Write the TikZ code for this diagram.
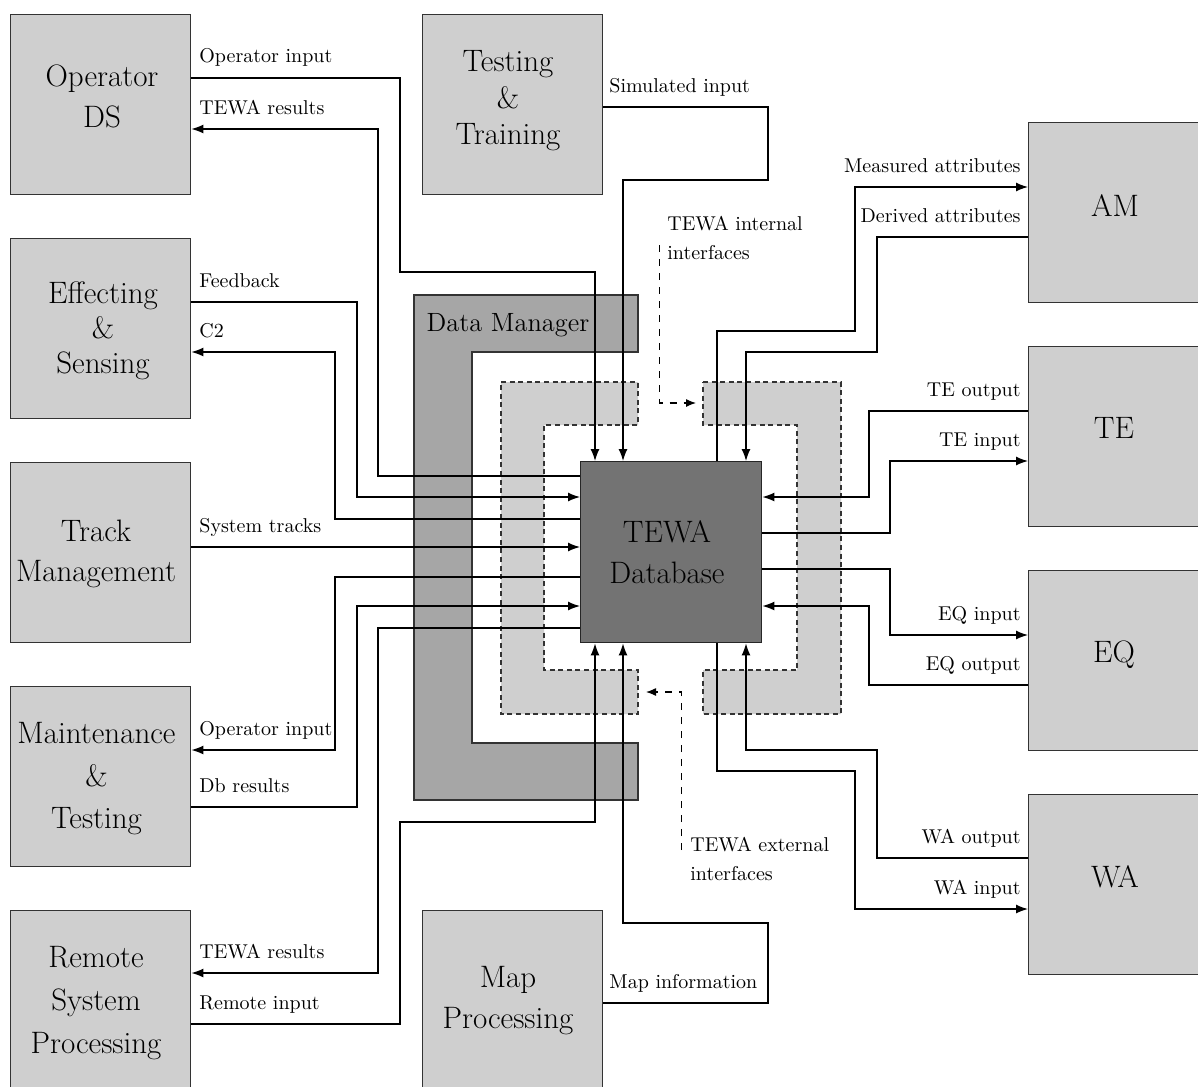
\documentclass[tikz,border=0pt]{standalone}
\usetikzlibrary{arrows.meta}
\definecolor{boxfill}{HTML}{CFCFCF}
\definecolor{dmfill}{HTML}{A6A6A6}
\definecolor{dbfill}{HTML}{737373}
\definecolor{edgecol}{HTML}{333333}
\pgfdeclarelayer{bg}
\pgfsetlayers{bg,main}
\begin{document}
\begin{tikzpicture}[x=0.5pt,y=-0.5pt,
  blk/.style={draw=edgecol, fill=boxfill, line width=0.7pt, minimum width=90pt, minimum height=90pt, inner sep=0pt, anchor=north west},
  dbblk/.style={draw=black!85, fill=dbfill, line width=0.7pt, minimum width=90.5pt, minimum height=90.5pt, inner sep=0pt, anchor=north west},
  big/.style={align=center, inner sep=0pt},
  lab/.style={font=\fontsize{10}{12}\selectfont, inner sep=0pt},
  conn/.style={line width=0.65pt, black},
  arr/.style={conn, -{Latex[length=6pt,width=4.5pt]}},
  dsh/.style={line width=0.6pt, black, dash pattern=on 3.5pt off 3.5pt, -{Latex[length=5pt,width=4pt]}},
  dmshape/.style={draw=edgecol, fill=dmfill, line width=0.7pt},
  brshape/.style={draw=edgecol, fill=boxfill, line width=0.6pt, dash pattern=on 2.5pt off 1.8pt}
]
\useasboundingbox (0,0) rectangle (1198,1086);

% boxes
\node[blk] (opds) at (10,14) {};
\node[blk] (tt) at (422,14) {};
\node[blk] (es) at (10,238) {};
\node[blk] (tm) at (10,462) {};
\node[blk] (mt) at (10,686) {};
\node[blk] (rsp) at (10,910) {};
\node[blk] (mp) at (422,910) {};
\node[blk] (am) at (1028,122) {};
\node[blk] (te) at (1028,346) {};
\node[blk] (eq) at (1028,570) {};
\node[blk] (wa) at (1028,794) {};
\node[dbblk] (db) at (580,461) {};

% box texts
\node[big, font=\fontsize{15.5}{20.5}\selectfont] (opds-t) at (102,96.5) {Operator\\DS};
\node[big, font=\fontsize{15.5}{18.25}\selectfont] (tt-t) at (508,101) {Testing\\\&\\Training};
\node[big, font=\fontsize{15.5}{17.5}\selectfont] (es-t) at (103,331) {Effecting\\\&\\Sensing};
\node[big, font=\fontsize{15.5}{20}\selectfont] (tm-t) at (96,554) {Track\\Management};
\node[big, font=\fontsize{15.5}{21.25}\selectfont] (mt-t) at (96.5,779) {Maintenance\\\&\\Testing};
\node[big, font=\fontsize{15.5}{21.5}\selectfont] (rsp-t) at (96,1003.5) {Remote\\System\\Processing};
\node[big, font=\fontsize{15.5}{20.5}\selectfont] (mp-t) at (508,1001) {Map\\Processing};
\node[big, font=\fontsize{15.5}{20.5}\selectfont] (db-t) at (667,552) {TEWA\\Database};
\node[big, font=\fontsize{15.5}{20}\selectfont] (am-t) at (1115,206) {AM};
\node[big, font=\fontsize{15.5}{20}\selectfont] (te-t) at (1114,428) {TE};
\node[big, font=\fontsize{15.5}{20}\selectfont] (eq-t) at (1114,655) {EQ};
\node[big, font=\fontsize{15.5}{20}\selectfont] (wa-t) at (1115,877) {WA};

% background shapes
\begin{pgfonlayer}{bg}
\fill[white] (0,0) rectangle (1198,1086);
\draw[dmshape] (414,295) -- (638,295) -- (638,352) -- (472,352) -- (472,743) -- (638,743) -- (638,800) -- (414,800) -- cycle;
\draw[brshape] (501,382) -- (638,382) -- (638,425) -- (544,425) -- (544,670) -- (638,670) -- (638,714) -- (501,714) -- cycle;
\draw[brshape] (703,382) -- (841,382) -- (841,714) -- (703,714) -- (703,670) -- (797,670) -- (797,425) -- (703,425) -- cycle;
\end{pgfonlayer}
\node[big, font=\fontsize{13.2}{16}\selectfont] (dm-t) at (508,325.5) {Data Manager};

% connectors
\draw[arr] (opds.east |- 0,78) -- (400,78) -- (400,272) -- (595,272) -- (db.north -| 595,0);
\draw[arr] (db.west |- 0,476) -- (378,476) -- (378,129) -- (opds.east |- 0,129);
\draw[arr] (tt.east |- 0,107) -- (768,107) -- (768,180) -- (623,180) -- (db.north -| 623,0);
\draw[arr] (db.north -| 717,0) -- (717,331) -- (855,331) -- (855,187) -- (am.west |- 0,187);
\draw[arr] (am.west |- 0,237) -- (877,237) -- (877,352) -- (746,352) -- (db.north -| 746,0);
\draw[arr] (es.east |- 0,302) -- (357,302) -- (357,497) -- (db.west |- 0,497);
\draw[arr] (db.west |- 0,519) -- (335,519) -- (335,352) -- (es.east |- 0,352);
\draw[arr] (tm.east |- 0,547) -- (db.west |- 0,547);
\draw[arr] (db.west |- 0,577) -- (335,577) -- (335,750) -- (mt.east |- 0,750);
\draw[arr] (mt.east |- 0,807) -- (357,807) -- (357,606) -- (db.west |- 0,606);
\draw[arr] (db.west |- 0,628) -- (378,628) -- (378,973) -- (rsp.east |- 0,973);
\draw[arr] (rsp.east |- 0,1024) -- (400,1024) -- (400,822) -- (595,822) -- (db.south -| 595,0);
\draw[arr] (mp.east |- 0,1003) -- (768,1003) -- (768,923) -- (623,923) -- (db.south -| 623,0);
\draw[arr] (te.west |- 0,411) -- (869,411) -- (869,497) -- (db.east |- 0,497);
\draw[arr] (db.east |- 0,533) -- (890,533) -- (890,461) -- (te.west |- 0,461);
\draw[arr] (db.east |- 0,569) -- (890,569) -- (890,635) -- (eq.west |- 0,635);
\draw[arr] (eq.west |- 0,685) -- (869,685) -- (869,606) -- (db.east |- 0,606);
\draw[arr] (wa.west |- 0,858) -- (877,858) -- (877,750) -- (746,750) -- (db.south -| 746,0);
\draw[arr] (db.south -| 717,0) -- (717,771) -- (855,771) -- (855,909) -- (wa.west |- 0,909);

% labels
\node[lab, anchor=base west] (l1) at (199,63) {Operator input};
\node[lab, anchor=base west] (l2) at (199,114) {TEWA results};
\node[lab, anchor=base west] (l3) at (609,92) {Simulated input};
\node[lab, anchor=base east] (l4) at (1021,172) {Measured attributes};
\node[lab, anchor=base east] (l5) at (1021,222) {Derived attributes};
\node[lab, anchor=base west] (l6) at (199,287) {Feedback};
\node[lab, anchor=base west] (l7) at (199,337) {C2};
\node[lab, anchor=base west] (l8) at (199,532) {System tracks};
\node[lab, anchor=base west] (l9) at (199,735) {Operator input};
\node[lab, anchor=base west] (l10) at (199,792) {Db results};
\node[lab, anchor=base west] (l11) at (199,958) {TEWA results};
\node[lab, anchor=base west] (l12) at (199,1009) {Remote input};
\node[lab, anchor=base west] (l13) at (609,988) {Map information};
\node[lab, anchor=base east] (l14) at (1021,396) {TE output};
\node[lab, anchor=base east] (l15) at (1021,446) {TE input};
\node[lab, anchor=base east] (l16) at (1021,620) {EQ input};
\node[lab, anchor=base east] (l17) at (1021,670) {EQ output};
\node[lab, anchor=base east] (l18) at (1021,843) {WA output};
\node[lab, anchor=base east] (l19) at (1021,894) {WA input};

% interface annotations
\node[lab, font=\fontsize{10}{14.3}\selectfont, align=left, anchor=north west] (intl) at (667,216) {TEWA internal\\interfaces};
\node[lab, font=\fontsize{10}{14.3}\selectfont, align=left, anchor=north west] (extl) at (690,837) {TEWA external\\interfaces};
\coordinate (intS) at (659.5,245);
\coordinate (extS) at (681.7,850);
\draw[dsh] (intS) -- (659.5,403) -- (696,403);
\draw[dsh] (extS) -- (681.7,692) -- (646,692);
\end{tikzpicture}
\end{document}
